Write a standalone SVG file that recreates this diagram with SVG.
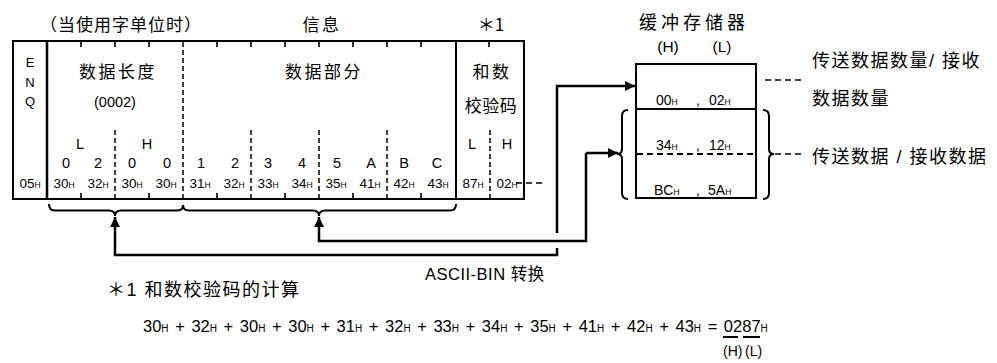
<svg xmlns="http://www.w3.org/2000/svg" width="997" height="363" viewBox="0 0 997 363">
<defs>
<style>
text{font-family:"Liberation Sans","Noto Sans CJK SC",sans-serif;fill:#000}
.cj{font-family:"Noto Sans CJK SC",sans-serif;font-size:17px;letter-spacing:2.5px}
.m{text-anchor:middle}
.hx{font-size:13.5px;text-anchor:middle}
.s{font-size:8.5px}
.dg{font-size:14.5px;text-anchor:middle}
.enq{font-size:13px;text-anchor:middle}
.bf{font-size:14px}
.ln{fill:none;stroke:#000;stroke-width:2}
.tk{fill:none;stroke:#000;stroke-width:1.6}
.dash{fill:none;stroke:#000;stroke-width:1.5;stroke-dasharray:5 3}
.dl{fill:none;stroke:#000;stroke-width:1.5;stroke-dasharray:6 4}
.con{fill:none;stroke:#000;stroke-width:2.5}
.br{fill:none;stroke:#000;stroke-width:2}
</style>
<marker id="ah" viewBox="0 0 10 10" refX="10" refY="5" markerWidth="4" markerHeight="4" orient="auto">
<path d="M0,0 L10,5 L0,10 z" fill="#000"/>
</marker>
</defs>

<g id="headings">
<text class="cj m" x="121" y="31" style="letter-spacing:1px">（当使用字单位时）</text>
<text class="cj m" x="322" y="31">信息</text>
<text class="cj m" x="491" y="31" style="letter-spacing:0">＊1</text>
</g>

<g id="frame">
<rect class="ln" x="13" y="41" width="511" height="158"/>
<line class="ln" x1="47" y1="41" x2="47" y2="199" style="stroke-width:2.5"/>
<line class="ln" x1="456" y1="41" x2="456" y2="199"/>
<path class="tk" d="M81,41v6M115,41v6M149,41v6M217,41v6M251,41v6M285,41v6M319,41v6M353,41v6M387,41v6M421,41v6M489,41v6"/>
<path class="tk" d="M81,199v-6M149,199v-6M217,199v-6M285,199v-6M353,199v-6M421,199v-6"/>
<path class="dash" d="M183,42V199M115,130V199M251,130V199M319,130V199M387,130V199M490,130V199"/>
</g>

<g id="enq">
<text class="enq" x="30" y="67">E</text>
<text class="enq" x="30" y="87">N</text>
<text class="enq" x="30" y="106">Q</text>
<text class="hx" x="30" y="188">05<tspan class="s">H</tspan></text>
</g>

<g id="length">
<text class="cj m" x="118" y="78">数据长度</text>
<text class="m" x="115" y="107" style="font-size:14.5px">(0002)</text>
<text class="dg" x="80" y="149">L</text>
<text class="dg" x="147" y="149">H</text>
<text class="dg" x="66" y="168">0</text>
<text class="dg" x="98" y="168">2</text>
<text class="dg" x="132" y="168">0</text>
<text class="dg" x="167" y="168">0</text>
<text class="hx" x="64" y="188">30<tspan class="s">H</tspan></text>
<text class="hx" x="98" y="188">32<tspan class="s">H</tspan></text>
<text class="hx" x="132" y="188">30<tspan class="s">H</tspan></text>
<text class="hx" x="166" y="188">30<tspan class="s">H</tspan></text>
</g>

<g id="data">
<text class="cj m" x="324" y="78">数据部分</text>
<text class="dg" x="201" y="168">1</text>
<text class="dg" x="235" y="168">2</text>
<text class="dg" x="268" y="168">3</text>
<text class="dg" x="302" y="168">4</text>
<text class="dg" x="337" y="168">5</text>
<text class="dg" x="371" y="168">A</text>
<text class="dg" x="404" y="168">B</text>
<text class="dg" x="437" y="168">C</text>
<text class="hx" x="200" y="188">31<tspan class="s">H</tspan></text>
<text class="hx" x="234" y="188">32<tspan class="s">H</tspan></text>
<text class="hx" x="268" y="188">33<tspan class="s">H</tspan></text>
<text class="hx" x="302" y="188">34<tspan class="s">H</tspan></text>
<text class="hx" x="336" y="188">35<tspan class="s">H</tspan></text>
<text class="hx" x="370" y="188">41<tspan class="s">H</tspan></text>
<text class="hx" x="404" y="188">42<tspan class="s">H</tspan></text>
<text class="hx" x="438" y="188">43<tspan class="s">H</tspan></text>
</g>

<g id="sumcheck">
<text class="cj m" x="492" y="78">和数</text>
<text class="cj m" x="491" y="112" style="letter-spacing:0.5px">校验码</text>
<text class="dg" x="472" y="149">L</text>
<text class="dg" x="507" y="149">H</text>
<text class="hx" x="473" y="188">87<tspan class="s">H</tspan></text>
<text class="hx" x="507" y="188">02<tspan class="s">H</tspan></text>
</g>

<g id="buffer">
<text class="cj m" x="694" y="29" style="font-size:18px;letter-spacing:4px">缓冲存储器</text>
<text class="m" x="668" y="52" style="font-size:15.5px">(H)</text>
<text class="m" x="722" y="52" style="font-size:15.5px">(L)</text>
<rect class="ln" x="636" y="64" width="120" height="134"/>
<line class="ln" x1="636" y1="109" x2="756" y2="109"/>
<line class="dash" x1="637" y1="154" x2="755" y2="154" style="stroke-width:2;stroke-dasharray:6 4"/>
<text class="bf" x="656" y="105">00<tspan class="s">H</tspan></text>
<text class="bf" x="696" y="105">,</text>
<text class="bf" x="709" y="105">02<tspan class="s">H</tspan></text>
<text class="bf" x="656" y="150">34<tspan class="s">H</tspan></text>
<text class="bf" x="696" y="150">,</text>
<text class="bf" x="709" y="150">12<tspan class="s">H</tspan></text>
<text class="bf" x="654" y="195">BC<tspan class="s">H</tspan></text>
<text class="bf" x="696" y="195">,</text>
<text class="bf" x="708" y="195">5A<tspan class="s">H</tspan></text>
</g>

<g id="buffer-labels">
<text x="812" y="67" style="font-size:18px;letter-spacing:1.5px">传送数据数量/ 接收</text>
<text x="812" y="105" style="font-size:18px;letter-spacing:1.5px">数据数量</text>
<text x="812" y="163" style="font-size:18px;letter-spacing:1.5px">传送数据 / 接收数据</text>
</g>

<g id="braces">
<path class="br" d="M49,204 Q49,210.5 55,210.5 L109,210.5 Q115,210.5 115,216 Q115,210.5 121,210.5 L177,210.5 Q183,210.5 183,205"/>
<path class="br" d="M183,205 Q183,210.5 189,210.5 L313,210.5 Q319,210.5 319,216 Q319,210.5 325,210.5 L450,210.5 Q456,210.5 456,204"/>
<path class="br" d="M628,110 Q622,110 622,116 L622,149 Q622,154 617,154 Q622,154 622,159 L622,193 Q622,199 628,199"/>
<path class="br" d="M763,110 Q769,110 769,116 L769,149 Q769,154 774,154 Q769,154 769,159 L769,193 Q769,199 763,199"/>
</g>

<g id="connectors">
<polyline class="con" points="557,248 557,255 115,255 115,217" marker-end="url(#ah)"/>
<polyline class="con" points="557,233 557,86 635,86" marker-end="url(#ah)"/>
<polyline class="con" points="586,153 586,241 319,241 319,217" marker-end="url(#ah)"/>
<line class="con" x1="586" y1="153" x2="618" y2="153" marker-end="url(#ah)"/>
<path class="dl" d="M516,183H546"/>
<path class="dl" d="M765,80H803"/>
<path class="dl" d="M775,154H803"/>
</g>

<g id="notes">
<text x="425" y="280" style="font-size:16.5px;letter-spacing:0.5px">ASCII-BIN 转换</text>
<text x="107" y="296" style="font-size:18px;letter-spacing:1.5px">＊1 和数校验码的计算</text>
<text x="143" y="332" style="font-size:16.5px;word-spacing:2px">30<tspan style="font-size:10px">H</tspan> + 32<tspan style="font-size:10px">H</tspan> + 30<tspan style="font-size:10px">H</tspan> + 30<tspan style="font-size:10px">H</tspan> + 31<tspan style="font-size:10px">H</tspan> + 32<tspan style="font-size:10px">H</tspan> + 33<tspan style="font-size:10px">H</tspan> + 34<tspan style="font-size:10px">H</tspan> + 35<tspan style="font-size:10px">H</tspan> + 41<tspan style="font-size:10px">H</tspan> + 42<tspan style="font-size:10px">H</tspan> + 43<tspan style="font-size:10px">H</tspan> = 0287<tspan style="font-size:10px">H</tspan></text>
<path class="ln" d="M723,337H738M743,337H760"/>
<text x="723" y="356" style="font-size:14px">(H)</text>
<text x="745" y="356" style="font-size:14px">(L)</text>
</g>
</svg>
